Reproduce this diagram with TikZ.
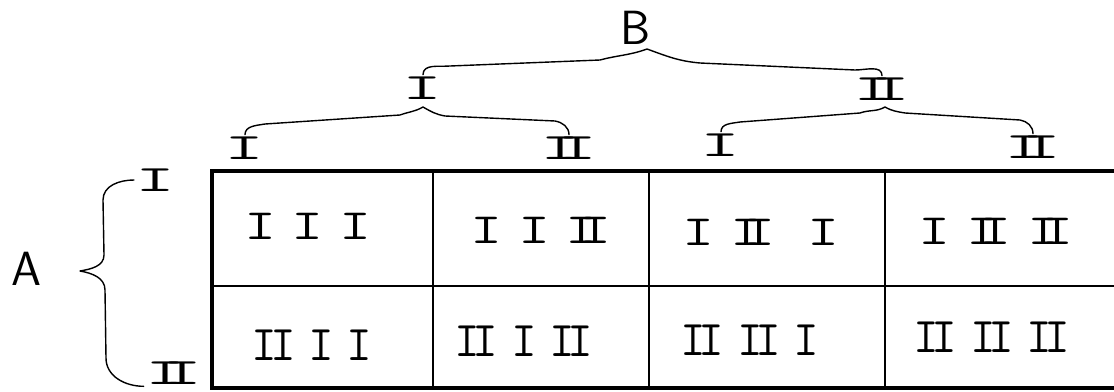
\documentclass[tikz,border=0pt]{standalone}
\usepackage{fontspec}
\usetikzlibrary{positioning,calc}

% roman numerals drawn as wide I-beams
\newcommand{\rI}{I}
\newcommand{\rII}{I\kern-.3em I}
\newcommand{\rIIw}{I\kern-.15em I}
\newcommand{\gap}{\kern.25em}
\newcommand{\wideone}[1]{\scalebox{1.45}[1]{#1}}
\newcommand{\widetwo}[1]{\scalebox{1.0}[1]{#1}}
\newcommand{\widelbl}[1]{\scalebox{2.1}[1]{#1}}

\begin{document}
\begin{tikzpicture}[x=1pt, y=-1pt,
    rowone/.style={inner sep=0pt, font=\ttfamily\fontsize{43}{43}\selectfont},
    rowtwo/.style={inner sep=0pt, font=\ttfamily\fontsize{50}{50}\selectfont},
    lbl/.style={inner sep=0pt, outer sep=2pt, font=\ttfamily\fontsize{37}{37}\selectfont},
    letter/.style={inner sep=0pt, font=\sffamily\fontsize{48}{48}\selectfont},
    brace/.style={draw, line width=1.4pt, line join=round, line cap=round},
    grid/.style={line width=1.4pt},
    frame/.style={line width=3.5pt}
]
\useasboundingbox (0,0) rectangle (1114,391);

% table
\draw[grid] (433,170) -- (433,388) (649,170) -- (649,388) (885,170) -- (885,388)
    (212,286) -- (1114,286);
\draw[frame] (1114,171) -- (212,171) -- (212,388) -- (1114,388);

% B and its two levels
\node[letter] (B) at (636,28) {B};
\node[lbl] (tI) at (423,88) {\widelbl{\rI}};
\node[lbl] (tII) at (882,89) {\widelbl{\rII}};
\node[lbl] (sI1) at (245,148) {\widelbl{\rI}};
\node[lbl] (sII1) at (569,148) {\widelbl{\rII}};
\node[lbl] (sI2) at (721,145) {\widelbl{\rI}};
\node[lbl] (sII2) at (1033,147) {\widelbl{\rII}};

% A and its levels
\node[letter] (A) at (26,269) {A};
\node[lbl] (aI) at (156,180) {\widelbl{\rI}};
\node[lbl] (aII) at (174,373) {\widelbl{\rII}};

% brace tips
\coordinate (pB) at (647,49);
\coordinate (pL) at (423,107);
\coordinate (pR) at (885,107);
\coordinate (pA) at (80,271);

% braces
\draw[brace] (tI.north) to[out=90,in=185] (450,66) -- (600,60) to[out=15,in=200] (pB)
    to[out=-20,in=175] (700,63) -- (855,70) to[out=0,in=90] (tII.north);
\draw[brace] (sI1.north) to[out=90,in=190] (265,124) -- (400,115) to[out=20,in=210] (pL)
    to[out=-30,in=170] (445,116) -- (555,121) to[out=-10,in=90] (sII1.north);
\draw[brace] (sI2.north) to[out=90,in=190] (740,122) -- (860,113) to[out=20,in=210] (pR)
    to[out=-30,in=170] (905,113) -- (1020,120) to[out=-10,in=90] (sII2.north);
\draw[brace] (aI.west) to[out=180,in=90] (103,200) -- (104,255) to[out=-90,in=10] (pA)
    to[out=-10,in=90] (105,290) -- (106,358) to[out=-90,in=180] (aII.south west);

% cells
\node[rowone] (c11) at (308,226) {\wideone{\rI\gap\rI\gap\rI}};
\node[rowone] (c12) at (541,230) {\wideone{\rI\gap\rI\gap\rII}};
\node[rowone] (c13) at (761,232) {\wideone{\rI\gap\rII\gap\gap\rI}};
\node[rowone] (c14) at (996,231) {\wideone{\rI\gap\rII\gap\rII}};
\node[rowtwo] (c21) at (312,345) {\widetwo{\rIIw\gap\rI\gap\rI}};
\node[rowtwo] (c22) at (524,341) {\widetwo{\rIIw\gap\rI\gap\rIIw}};
\node[rowtwo] (c23) at (750,340) {\widetwo{\rIIw\gap\rIIw\gap\rI}};
\node[rowtwo] (c24) at (992,337) {\widetwo{\rIIw\gap\rIIw\gap\rIIw}};
\end{tikzpicture}
\end{document}
